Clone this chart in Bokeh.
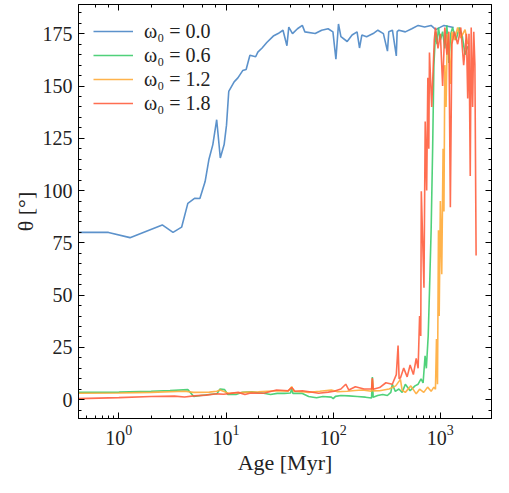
from bokeh.plotting import figure
from bokeh.models import (Range1d, LinearAxis, LogAxis, SingleIntervalTicker,
                          LogTicker, CustomJSTickFormatter, Legend)
from bokeh.embed import file_html
from bokeh.resources import INLINE

# ---------------- data ----------------
series_labels = ["ω₀ = 0.0", "ω₀ = 0.6", "ω₀ = 1.2", "ω₀ = 1.8"]
series_colors = ["#4a86c5", "#3dcc6c", "#ffab38", "#ff5e3e"]

age_00 = [0.42, 0.8, 1.27, 2.54, 3.2, 3.85, 4.4, 5.08, 5.7, 6.38, 6.93, 7.53, 8.18, 8.84,
          9.6, 10.1, 10.6, 11.9, 12.9, 14.3, 15.4, 16.7, 18.9, 19.8, 21.7, 24, 27.6, 30.6,
          34, 37, 38.5, 41.7, 46.4, 51.5, 54.4, 67.9, 78, 89.6, 99.4, 106, 112, 118, 135,
          150, 167, 176, 185, 205, 236, 261, 294, 321, 330, 357, 388, 395, 410, 471, 541,
          621, 713, 818, 907, 1080, 1330]
theta_00 = [80, 80, 77.5, 83.6, 80, 82.5, 93.9, 96.3, 96.2, 104.3, 115, 122, 133.9, 115.6,
            122, 131.3, 147.4, 152, 153.9, 157.4, 157.9, 164.7, 164, 166.2, 168.2, 170.8,
            173.9, 175.1, 176.7, 169.3, 178.2, 175.1, 177.4, 179, 175.9, 175.1, 176.7, 177.4,
            175.9, 162.8, 179.7, 173.6, 171.3, 174.4, 175.9, 168.2, 174.4, 173.6, 175.1,
            176.7, 175.1, 166.7, 176, 176.7, 164.4, 176, 176.7, 175.9, 177.4, 179, 178.2,
            179, 177, 179, 178]

age_06 = [0.42, 1.0, 2.0, 3.0, 4.4, 5.0, 5.8, 7.0, 8.2, 8.8, 9.7, 10.4, 12.4, 14.2, 17.5,
          20, 22.5, 26, 30, 35, 40, 41, 42, 51, 59, 65, 70, 80, 96, 100, 105, 118, 140, 167,
          200, 228, 232, 236, 260, 290, 320, 345, 356, 380, 410, 440, 471, 522, 580, 620,
          660, 690, 720, 740, 770, 790, 820, 847, 870, 902, 930, 960, 1000, 1050, 1100,
          1150, 1200, 1250, 1300, 1400, 1500, 1600, 1700, 1800]
theta_06 = [3.5, 3.6, 4.0, 4.4, 4.8, 1.5, 2.0, 2.5, 2.8, 5.1, 4.8, 2.5, 2.5, 3.5, 3.8,
            3.3, 3.1, 2.5, 3.0, 3.0, 3.2, 5.5, 3.0, 3.1, 1.5, 1.2, 0.9, 1.5, 1.2, 0.5, 1.6,
            2.0, 1.8, 1.5, 1.2, 0.8, 10.8, 1.2, 2.0, 2.5, 2.0, 3.5, 7.4, 4.0, 5.1, 3.5, 7.4,
            4.3, 6.6, 7.4, 10, 8, 21, 15, 30.5, 50.5, 81, 120, 160, 176, 170, 178, 172, 176,
            168, 179, 161, 175, 178, 172, 178, 174, 165, 169]

age_12 = [0.42, 1.0, 2.0, 4.1, 5.0, 7.0, 8.2, 8.8, 9.7, 10.5, 13, 14.8, 20, 29.6, 38, 41,
          43, 51, 59, 75, 96, 110, 135, 160, 187, 228, 232, 236, 271, 332, 383, 424, 440,
          471, 530, 595, 640, 700, 760, 820, 870, 900, 920, 940, 960, 975, 1000, 1030,
          1060, 1080, 1100, 1130, 1160, 1200, 1250, 1280, 1350, 1450, 1550, 1700, 1800]
theta_12 = [3.1, 3.2, 3.5, 4.0, 3.5, 3.6, 4.0, 4.6, 3.8, 3.1, 3.3, 3.5, 3.8, 4.3, 4.0, 6.2,
            4.0, 3.8, 3.5, 4.0, 4.6, 3.8, 4.0, 4.4, 4.6, 4.0, 9.7, 4.2, 4.3, 5.1, 6.6, 9.7,
            4.5, 3.5, 6.6, 2.8, 5.0, 3.5, 6.0, 4.0, 6.0, 5.0, 29, 7.4, 81, 40, 95, 60, 120,
            90, 160, 140, 175, 170, 151, 176, 172, 178, 173, 177, 170]

age_18 = [0.42, 1.0, 2.0, 3.3, 4.1, 5.0, 6.5, 8.2, 9.5, 11, 13, 15, 17, 22.5, 29.6, 38, 41,
          44, 51.5, 60, 73, 90, 102, 118, 131, 140, 161, 194, 228, 232, 236, 271, 310, 356,
          388, 403, 412, 424, 455, 490, 522, 560, 595, 620, 640, 656, 664, 703, 722, 745,
          764, 780, 791, 830, 877, 900, 950, 1000, 1050, 1100, 1150, 1200, 1239, 1280,
          1350, 1450, 1550, 1650, 1750, 1800, 1850, 1900, 1940, 2000, 2050, 2100, 2155]
theta_18 = [0.5, 1.0, 1.5, 1.7, 1.3, 1.8, 2.2, 2.8, 2.6, 3.0, 3.5, 2.5, 3.2, 3.1, 4.6, 4.3,
            5.8, 4.0, 4.3, 3.8, 3.1, 3.6, 4.0, 5.1, 7.4, 4.6, 6.2, 5.1, 5.1, 10.4, 5.0, 5.8,
            8.1, 7.4, 12, 25.9, 10, 10.4, 15.1, 10.9, 16.6, 12, 19.7, 15, 40, 30.5, 99.7,
            53.5, 133, 100, 154, 120, 166, 140, 172, 178, 168, 175, 150, 178, 165, 176, 92,
            170, 176, 170, 178, 160, 175, 144, 175, 107, 178, 140, 176, 160, 69]

ages = [age_00, age_06, age_12, age_18]
thetas = [theta_00, theta_06, theta_12, theta_18]

y_major = 25
y_start, y_end = -9, 189
x_start, x_end = 0.42, 3000

# ---------------- figure ----------------
FONT = "Liberation Serif"
p = figure(width=493, height=477, x_axis_type="log",
           x_range=Range1d(x_start, x_end), y_range=Range1d(y_start, y_end),
           output_backend="svg", toolbar_location=None,
           min_border_left=78, min_border_right=2, min_border_top=4, min_border_bottom=0)
p.grid.visible = False
p.outline_line_color = "black"
p.outline_line_width = 1
p.background_fill_color = "white"
p.border_fill_color = "white"

for ax in p.xaxis:
    ax.axis_label = "Age [Myr]"
for ax in p.yaxis:
    ax.axis_label = "θ [°]"
    ax.ticker = SingleIntervalTicker(interval=y_major, num_minor_ticks=5)

top = LogAxis(ticker=LogTicker(), formatter=CustomJSTickFormatter(code="return ''"))
right = LinearAxis(ticker=SingleIntervalTicker(interval=y_major, num_minor_ticks=5),
                   formatter=CustomJSTickFormatter(code="return ''"))
p.add_layout(top, "above")
p.add_layout(right, "right")

for ax in list(p.xaxis) + list(p.yaxis):
    ax.major_tick_in = 6
    ax.major_tick_out = 0
    ax.minor_tick_in = 3
    ax.minor_tick_out = 0
    ax.axis_line_color = "black"
    ax.major_tick_line_color = "black"
    ax.minor_tick_line_color = "black"
    ax.major_label_text_font = FONT
    ax.major_label_text_font_size = "20px"
    ax.major_label_text_color = "#222222"
    ax.axis_label_text_font = FONT
    ax.axis_label_text_font_size = "22px"
    ax.axis_label_text_font_style = "normal"
    ax.axis_label_text_color = "#222222"
    ax.major_label_standoff = 6
    ax.axis_label_standoff = 2
p.xaxis[0].major_label_standoff = 3
p.xaxis[0].major_label_text_font_size = "19px"
p.xaxis[0].axis_label_text_font_size = "21px"
p.xaxis[0].axis_label_standoff = 0
for ax in (top, right):
    ax.major_label_standoff = 0
    ax.major_label_text_font_size = "0px"
    ax.axis_label_standoff = 0

items = []
for lab, col, a, t in zip(series_labels, series_colors, ages, thetas):
    r = p.line(a, t, line_color=col, line_width=1.6, line_alpha=0.9)
    items.append((lab, [r]))

legend = Legend(items=items, location="top_left", border_line_alpha=0,
                background_fill_alpha=0, label_text_font=FONT,
                label_text_font_size="20px", glyph_width=40, glyph_height=24,
                label_height=24, spacing=0, padding=5, margin=10,
                label_standoff=11, label_text_color="#222222")
p.add_layout(legend, "center")

open("out.html", "w").write(file_html(p, INLINE))
